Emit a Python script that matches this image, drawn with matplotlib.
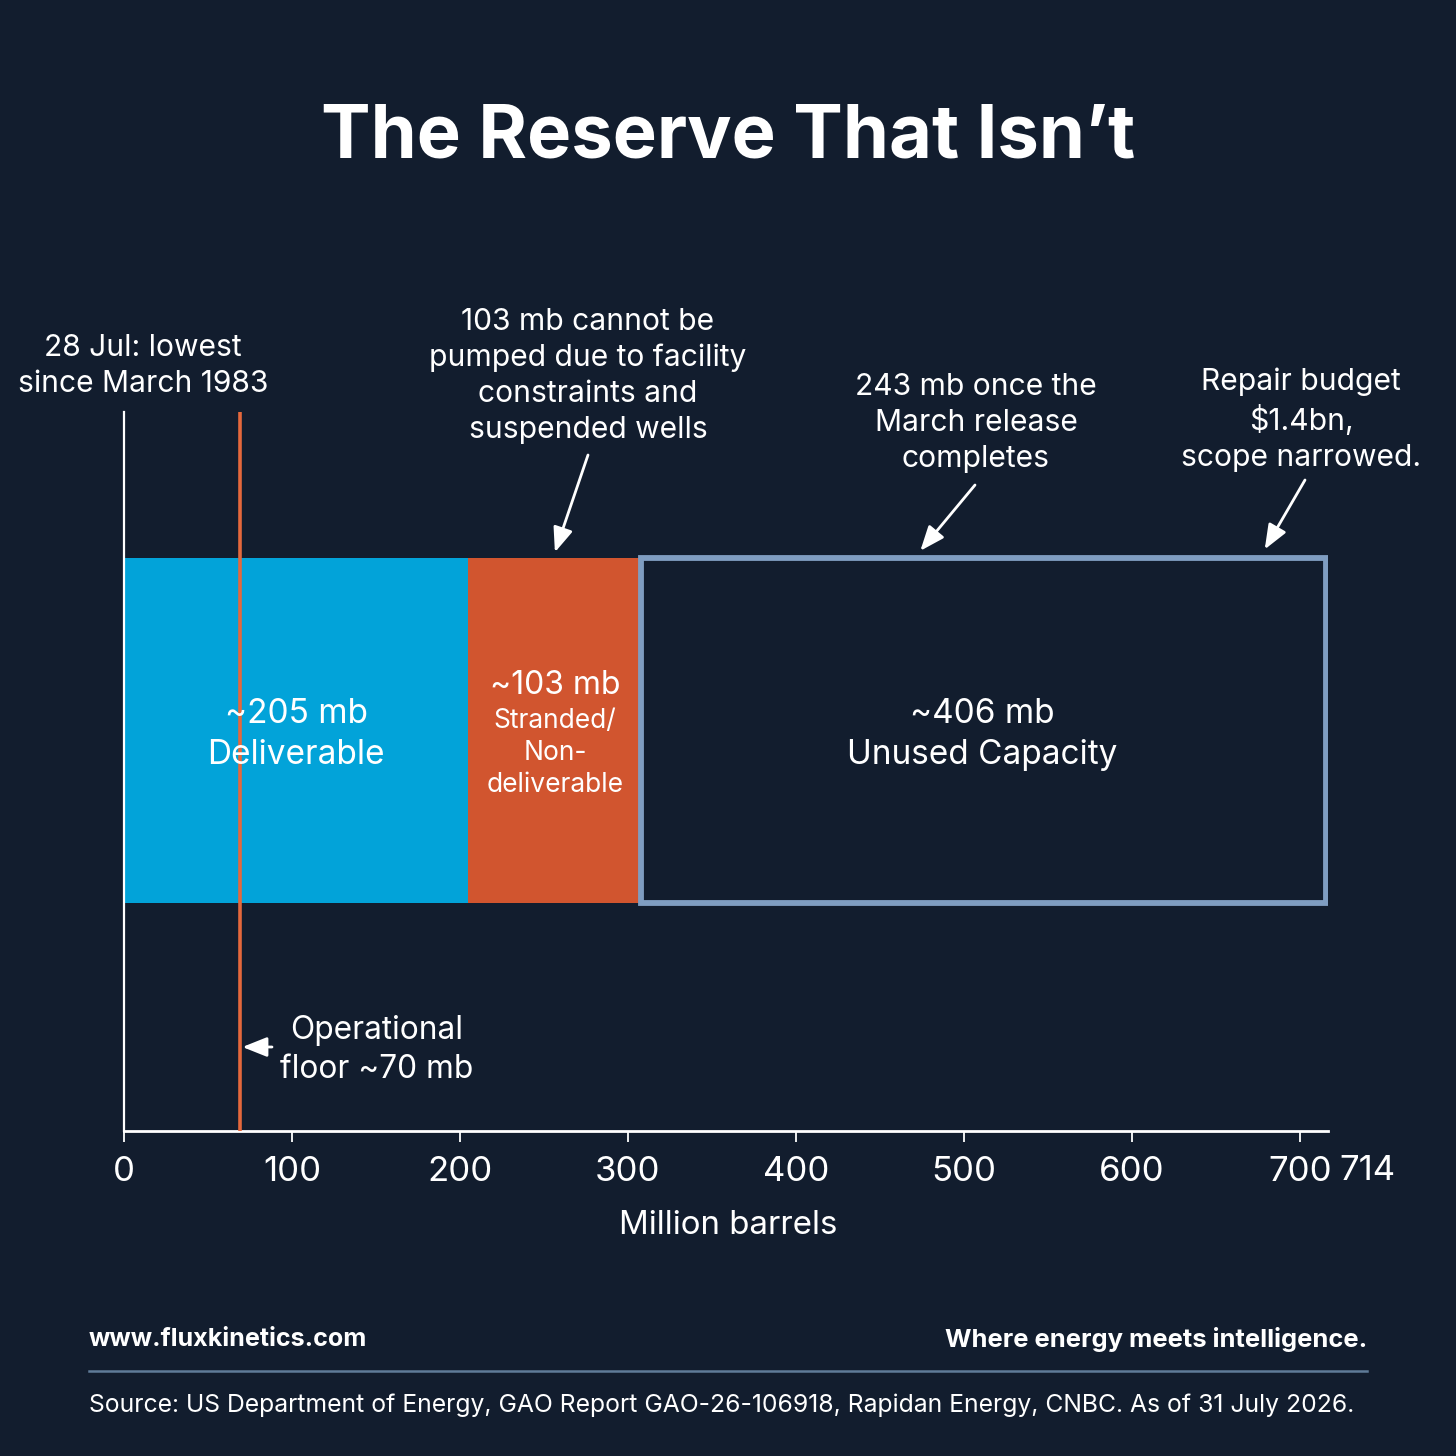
import matplotlib
matplotlib.use("Agg")
import matplotlib.pyplot as plt
from matplotlib.patches import Rectangle
from matplotlib.transforms import blended_transform_factory

# ---- data ----
segments = ["Deliverable", "Stranded/\nNon-\ndeliverable", "Unused Capacity"]
seg_values = [205, 103, 406]
total_capacity = 714
operational_floor = 70
xticks = [0, 100, 200, 300, 400, 500, 600, 700]
xtick_labels = ["0", "100", "200", "300", "400", "500", "600", "700"]
seg_headlines = ["~205 mb", "~103 mb", "~406 mb"]

BG = "#121d2e"
BLUE = "#02a3d9"
ORANGE = "#d1552f"
FLOOR = "#e4683c"
BOX = "#7f9dc1"
WHITE = "#ffffff"
FONT = "Inter"

W = H = 1456
fig = plt.figure(figsize=(14.56, 14.56), dpi=100, facecolor=BG)

def fx(px):
    return px / W

def fy(py):
    return 1 - py / H

# axes: x 0 at px 124, 1.68 px per mb ; y from px 1131 (bottom) to 412 (top)
ax_left, ax_right, ax_top, ax_bot = 124, 1328, 412, 1131
ax = fig.add_axes([fx(ax_left), fy(ax_bot), (ax_right - ax_left) / W, (ax_bot - ax_top) / H])
ax.set_facecolor(BG)
ax.set_xlim(0, (ax_right - ax_left) / 1.68)
ax.set_ylim(0, 1)

def dy(py):
    return (ax_bot - py) / (ax_bot - ax_top)

bar_y0 = dy(903)
bar_y1 = dy(558)
bar_h = bar_y1 - bar_y0
bar_c = (bar_y0 + bar_y1) / 2

# filled segments
ax.barh(bar_c, seg_values[0], left=0, height=bar_h, color=BLUE, zorder=2)
ax.barh(bar_c, seg_values[1], left=seg_values[0], height=bar_h, color=ORANGE, zorder=2)
# unused capacity outlined
unused_left = seg_values[0] + seg_values[1]
ax.add_patch(Rectangle((unused_left, bar_y0), seg_values[2] + 1.5, bar_h, facecolor="none",
                       edgecolor=BOX, linewidth=4.2, zorder=3, joinstyle="miter"))

# operational floor line
ax.axvline(operational_floor - 1, color=FLOOR, lw=2.6, zorder=4)

# spines / ticks
for s in ["top", "right"]:
    ax.spines[s].set_visible(False)
ax.spines["left"].set_color(WHITE)
ax.spines["left"].set_linewidth(1.6)
ax.spines["bottom"].set_color(WHITE)
ax.spines["bottom"].set_linewidth(2.0)
ax.set_yticks([])
ax.set_xticks(xticks)
ax.set_xticklabels(xtick_labels)
ax.tick_params(axis="x", colors=WHITE, length=8, width=1.3, pad=10, labelsize=25)
for t in ax.get_xticklabels():
    t.set_fontfamily(FONT)
tr = blended_transform_factory(ax.transData, fig.transFigure)
ax.text(total_capacity + 26, fy(1171), str(total_capacity), transform=tr,
        ha="center", va="center", color=WHITE, fontsize=25, fontfamily=FONT)
fig.text(0.5, fy(1225), "Million barrels", ha="center", va="center", color=WHITE,
         fontsize=23.8, fontfamily=FONT)

# segment labels
lefts = [0, seg_values[0], unused_left]
centers = [l + v / 2 for l, v in zip(lefts, seg_values)]
big = dict(ha="center", va="center", color=WHITE, fontsize=24, fontfamily=FONT, zorder=6)
ax.text(centers[0], dy(714), seg_headlines[0], **big)
ax.text(centers[0], dy(755), segments[0], **big)
ax.text(centers[2], dy(714), seg_headlines[2], **big)
ax.text(centers[2], dy(755), segments[2], **big)
ax.text(centers[1], dy(686), seg_headlines[1], ha="center", va="center",
        color=WHITE, fontsize=23, fontfamily=FONT, zorder=6)
ax.text(centers[1], dy(753), segments[1], ha="center", va="center",
        color=WHITE, fontsize=19, fontfamily=FONT, linespacing=1.31, zorder=6)

# title
fig.text(0.5, fy(138), "The Reserve That Isn\u2019t", ha="center", va="center", color=WHITE,
         fontsize=53.4, fontweight="bold", fontfamily=FONT)

# annotations
ann_kw = dict(color=WHITE, fontsize=21.6, fontfamily=FONT, ha="center", va="center", linespacing=1.36)
fig.text(fx(143), fy(366), "28 Jul: lowest\nsince March 1983", **ann_kw)
fig.text(fx(588), fy(376), "103 mb cannot be\npumped due to facility\nconstraints and\nsuspended wells", **ann_kw)
fig.text(fx(976), fy(423), "243 mb once the\nMarch release\ncompletes", **ann_kw)
fig.text(fx(1301), fy(420), "Repair budget\n$1.4bn,\nscope narrowed.", **ann_kw)
fig.text(fx(377), fy(1050), "Operational\nfloor ~70 mb", color=WHITE, fontsize=22.8, fontfamily=FONT,
         ha="center", va="center", linespacing=1.36)

arrow = dict(arrowstyle="-|>,head_length=0.75,head_width=0.3", color=WHITE, lw=2.0,
             shrinkA=0, shrinkB=0, mutation_scale=20)
top_y = bar_y1 + 0.008
ax.annotate("", xy=(-3.5, top_y), xytext=(fx(80), fy(415)), xycoords="data",
            textcoords="figure fraction", arrowprops=arrow, zorder=7)
ax.annotate("", xy=(centers[1], top_y), xytext=(fx(588), fy(455)), xycoords="data",
            textcoords="figure fraction", arrowprops=arrow, zorder=7)
ax.annotate("", xy=(474, top_y + 0.002), xytext=(fx(975), fy(485)), xycoords="data",
            textcoords="figure fraction", arrowprops=arrow, zorder=7)
ax.annotate("", xy=(679, top_y + 0.004), xytext=(fx(1305), fy(480)), xycoords="data",
            textcoords="figure fraction", arrowprops=arrow, zorder=7)
ax.annotate("", xy=(operational_floor + 0.5, dy(1047)),
            xytext=(fx(272), fy(1047)), xycoords="data",
            textcoords="figure fraction", arrowprops=arrow, zorder=7)

# footer
fig.text(fx(89), fy(1340), "www.fluxkinetics.com", ha="left", va="center", color=WHITE,
         fontsize=18.1, fontweight="bold", fontfamily=FONT)
fig.text(fx(1367), fy(1340), "Where energy meets intelligence.", ha="right", va="center", color=WHITE,
         fontsize=18.4, fontweight="bold", fontfamily=FONT)
fig.add_artist(plt.Line2D([fx(89), fx(1367)], [fy(1371), fy(1371)], color="#5f7b98", lw=1.8))
fig.text(fx(89), fy(1405), "Source: US Department of Energy, GAO Report GAO-26-106918, Rapidan Energy, CNBC. As of 31 July 2026.",
         ha="left", va="center", color=WHITE, fontsize=17.8, fontfamily=FONT)

fig.savefig("out.png", dpi=100, facecolor=BG)
